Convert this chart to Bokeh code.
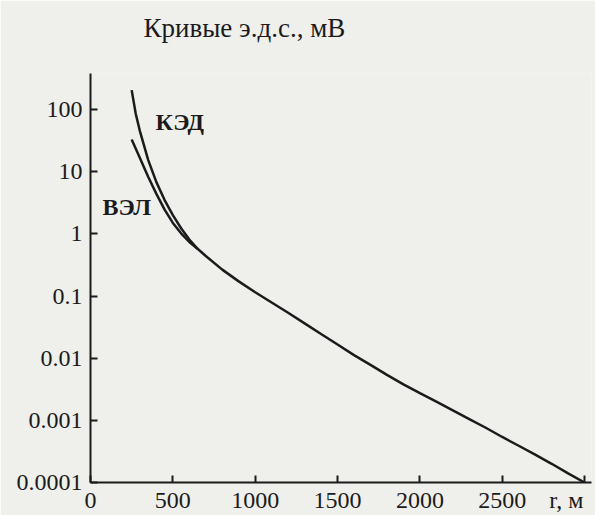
from bokeh.plotting import figure
from bokeh.models import Range1d, FixedTicker, CustomJSTickFormatter, Label, Title
from bokeh.embed import file_html
from bokeh.resources import INLINE

# --- data ---
title_text = "Кривые э.д.с., мВ"
x_ticks = [0, 500, 1000, 1500, 2000, 2500, 3000]
x_end_label = "r, м"
y_ticks = [0.0001, 0.001, 0.01, 0.1, 1, 10, 100]

# КЭД (upper branch, before merging)
r_ked = [250, 275, 300, 350, 400, 450, 500, 550, 600, 650]
v_ked = [205, 85, 45, 15.5, 6.8, 3.5, 2.0, 1.23, 0.81, 0.575]

# ВЭЛ (lower branch, before merging)
r_vel = [250, 300, 350, 400, 450, 500, 550, 600, 650]
v_vel = [33, 16.6, 8.3, 4.4, 2.45, 1.5, 1.02, 0.74, 0.575]

# common tail of both curves
r_tail = [650, 700, 800, 900, 1000, 1100, 1200, 1300, 1400, 1500, 1600, 1700,
          1800, 1900, 2000, 2100, 2200, 2300, 2400, 2500, 2600, 2700, 2800,
          2900, 3000]
v_tail = [0.575, 0.44, 0.266, 0.172, 0.115, 0.0785, 0.0537, 0.0363, 0.0245,
          0.0166, 0.0112, 0.0078, 0.0054, 0.0038, 0.00275, 0.0020, 0.00145,
          0.00105, 0.00076, 0.00054, 0.00039, 0.00028, 0.00020, 0.00014,
          0.0001]

FONT = "Liberation Serif"
INK = "#1b1b1b"
BG = "#efefec"

p = figure(width=595, height=515, x_range=Range1d(0, 3042),
           y_range=Range1d(0.0001, 380), y_axis_type="log", title=None,
           output_backend="svg", toolbar_location=None,
           min_border_left=90, min_border_top=73, min_border_right=4,
           min_border_bottom=31)
p.background_fill_color = BG
p.border_fill_color = BG
p.outline_line_color = None
p.grid.visible = False

# spacer (closest to the frame), then the real title above it
p.add_layout(Title(text="\u00a0", text_font=FONT, text_font_size="20px",
                   standoff=0), "above")
p.add_layout(Title(text=title_text, align="left", vertical_align="top",
                   offset=53, standoff=10, text_font=FONT,
                   text_font_size="27px", text_font_style="normal",
                   text_color=INK), "above")

for ax in (p.xaxis[0], p.yaxis[0]):
    ax.axis_line_width = 2
    ax.axis_line_color = INK
    ax.major_tick_in = 7
    ax.major_tick_out = 0
    ax.major_tick_line_width = 2
    ax.major_tick_line_color = INK
    ax.minor_tick_line_color = None
    ax.major_label_text_font = FONT
    ax.major_label_text_font_size = "24px"
    ax.major_label_text_color = INK

p.xaxis[0].ticker = FixedTicker(ticks=x_ticks, minor_ticks=[])
p.xaxis[0].formatter = CustomJSTickFormatter(
    args=dict(end_label=x_end_label + "\u00a0\u00a0"),
    code="return tick >= 3000 ? end_label : tick.toFixed(0);")
p.xaxis[0].major_label_standoff = 4

p.yaxis[0].ticker = FixedTicker(ticks=y_ticks, minor_ticks=[])
p.yaxis[0].formatter = CustomJSTickFormatter(
    code="return tick >= 1 ? tick.toFixed(0) : tick.toPrecision(1);")
p.yaxis[0].major_label_standoff = 8

p.line(r_ked, v_ked, line_color=INK, line_width=2.5)
p.line(r_vel, v_vel, line_color=INK, line_width=2.5)
p.line(r_tail, v_tail, line_color=INK, line_width=2.5)

p.add_layout(Label(x=395, y=62, text="КЭД", text_font=FONT,
                   text_font_size="24px", text_font_style="bold",
                   text_color=INK, text_baseline="middle", text_align="left"))
p.add_layout(Label(x=73, y=2.7, text="ВЭЛ", text_font=FONT,
                   text_font_size="24px", text_font_style="bold",
                   text_color=INK, text_baseline="middle", text_align="left"))

open("out.html", "w").write(file_html(p, INLINE))
